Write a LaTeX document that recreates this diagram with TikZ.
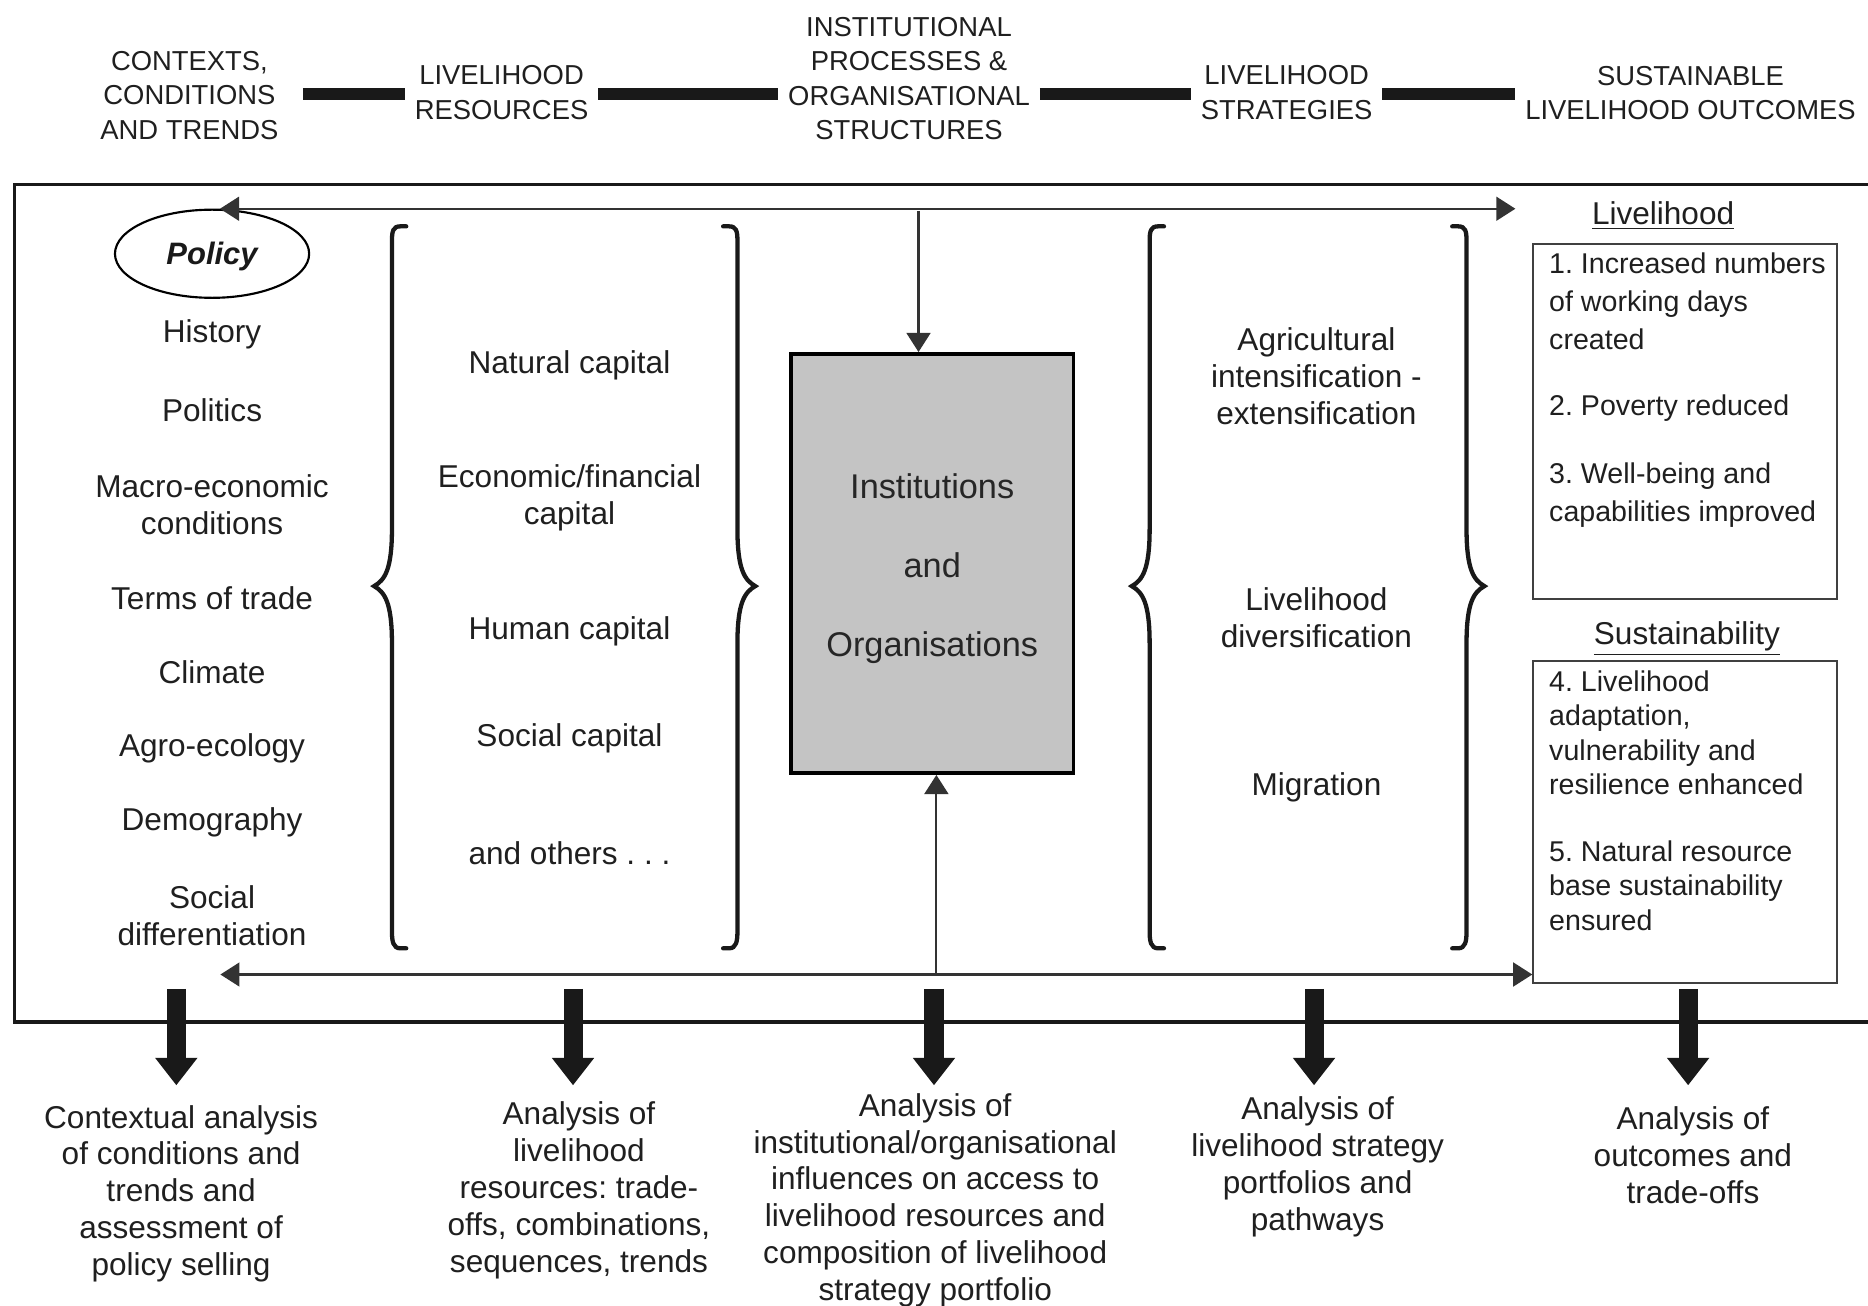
\documentclass[tikz,border=0pt]{standalone}
\usepackage{fontspec}
\setmainfont{Liberation Sans}
\usetikzlibrary{arrows.meta,shapes.geometric,calc}
\frenchspacing
\begin{document}
\frenchspacing
\begin{tikzpicture}[x=0.5pt,y=-0.5pt,
  txt/.style={align=center,inner sep=0pt,yshift=-1pt,text=black!88,font=\fontsize{13.25pt}{15.5pt}\selectfont},
  hdr/.style={align=center,inner ysep=0pt,inner xsep=4pt,text=black!88,font=\fontsize{11.5pt}{14.5pt}\selectfont},
  hbar/.style={line width=5pt,black!90},
  thinln/.style={line width=0.9pt,draw=black!80},
  tip/.tip={Triangle[length=8pt,width=10pt]},
  bigarrow/.style={line width=8pt,black!90,-{Triangle[length=11.5pt,width=17pt]}},
  bracepath/.style={line width=1.8pt,black!90,line cap=round},
  lbrace/.pic={\draw[bracepath] (12,-302) -- (7,-302) .. controls (1,-302) and (0,-298) .. (0,-290) -- (0,-48) .. controls (0,-14) and (-6,-5) .. (-15,0) .. controls (-6,5) and (0,14) .. (0,48) -- (0,290) .. controls (0,298) and (1,304) .. (7,304) -- (12,304);},
  boxtxt/.style={align=left,inner sep=0pt,anchor=west,text=black!88}
]
\useasboundingbox (0,0) rectangle (1568,1096);

% ---- headers ----
\node[hdr] (h1) at (159,80) {CONTEXTS,\\CONDITIONS\\AND TRENDS};
\node[hdr] (h2) at (421,77.5) {LIVELIHOOD\\RESOURCES};
\node[hdr] (h3) at (763,66) {INSTITUTIONAL\\PROCESSES \&\\ORGANISATIONAL\\STRUCTURES};
\node[hdr] (h4) at (1080,77.5) {LIVELIHOOD\\STRATEGIES};
\node[hdr] (h5) at (1419,78) {SUSTAINABLE\\LIVELIHOOD OUTCOMES};
\coordinate (bary) at (0,79);
\draw[hbar,shorten <=6pt] (h1.east |- bary) -- (h2.west |- bary);
\draw[hbar] (h2.east |- bary) -- (h3.west |- bary);
\draw[hbar] (h3.east |- bary) -- (h4.west |- bary);
\draw[hbar] (h4.east |- bary) -- (h5.west |- bary);

% ---- main frame ----
\draw[line width=1.5pt,black!90] (12,155) rectangle (1600,858);

% ---- left column ----
\node[ellipse,draw,line width=0.9pt,minimum width=81.5pt,minimum height=37pt,inner sep=0pt,text=black!90,
      font=\bfseries\itshape\fontsize{13pt}{15pt}\selectfont] (policy) at (178,213) {\raisebox{-4.6pt}[0pt][0pt]{Policy}};
\node[txt] (c1) at (178,279) {History};
\node[txt] (c2) at (178,342) {Politics};
\node[txt] (c3) at (178,421.5) {Macro-economic\\conditions};
\node[txt] (c4) at (178,500) {Terms of trade};
\node[txt] (c5) at (178,562) {Climate};
\node[txt] (c6) at (178,626) {Agro-ecology};
\node[txt] (c7) at (178,688) {Demography};
\node[txt] (c8) at (178,766.5) {Social\\differentiation};

% ---- resources ----
\pic at (329,492) {lbrace};
\pic[xscale=-1] at (619,492) {lbrace};
\node[txt] (r1) at (478,305) {Natural capital};
\node[txt] (r2) at (478,415.5) {Economic/financial\\capital};
\node[txt] (r3) at (478,528) {Human capital};
\node[txt] (r4) at (478,618) {Social capital};
\node[txt] (r5) at (478,714) {and others . . .};

% ---- institutions ----
\node[draw,line width=1.5pt,fill=black!23,minimum width=118.5pt,minimum height=176pt] (inst) at (782.5,473) {};
\node[align=center,inner sep=0pt,text=black!85,font=\fontsize{14.4pt}{33.25pt}\selectfont] (instt) at (782.5,477.5) {Institutions\\and\\Organisations};

% ---- strategies ----
\pic at (965,492) {lbrace};
\pic[xscale=-1] at (1231,492) {lbrace};
\node[txt] (s1) at (1105,313.5) {Agricultural\\intensification -\\extensification};
\node[txt] (s2) at (1105,516.5) {Livelihood\\diversification};
\node[txt] (s3) at (1105,659) {Migration};

% ---- outcomes ----
\node[txt] (livh) at (1396,179) {\underline{Livelihood}};
\node[draw=black!75,line width=0.8pt,minimum width=127.5pt,minimum height=149pt] (liv) at (1414.5,354) {};
\node[boxtxt,yshift=-1pt,font=\fontsize{12pt}{15.75pt}\selectfont] (livt) at (1300,325.5)
  {1. Increased numbers\\of working days\\created\\[12.25pt]2. Poverty reduced\\[12.75pt]3. Well-being and\\capabilities improved};
\node[txt] (sush) at (1416,534) {\underline{Sustainability}};
\node[draw=black!75,line width=0.8pt,minimum width=127.5pt,minimum height=135pt] (sus) at (1414.5,690) {};
\node[boxtxt,font=\fontsize{12pt}{14.5pt}\selectfont] (sust) at (1300,672)
  {4. Livelihood\\adaptation,\\vulnerability and\\resilience enhanced\\[13.5pt]5. Natural resource\\base sustainability\\ensured};

% ---- thin arrows ----
\coordinate (tr) at (1272,174);
\draw[thinln,tip-tip] (policy.80) -- (policy.80 -| tr);
\coordinate (tj) at (771,177);
\draw[thinln,-tip] (tj) -- (tj |- inst.north);
\coordinate (bl) at (185,818);
\draw[thinln,tip-tip] (bl) -- (bl -| sus.west);
\coordinate (bj) at (786,818);
\draw[thinln,-tip] (bj) -- (bj |- inst.south);

% ---- bottom analysis ----
\node[txt] (t1) at (152,1000) {Contextual analysis\\of conditions and\\trends and\\assessment of\\policy selling};
\node[txt] (t2) at (486,997) {Analysis of\\livelihood\\resources: trade-\\offs, combinations,\\sequences, trends};
\node[txt] (t3) at (785,1005.5) {Analysis of\\institutional/organisational\\influences on access to\\livelihood resources and\\composition of livelihood\\strategy portfolio};
\node[txt] (t4) at (1106,977.5) {Analysis of\\livelihood strategy\\portfolios and\\pathways};
\node[txt] (t5) at (1421,967.5) {Analysis of\\outcomes and\\trade-offs};

\foreach \i/\x in {1/148,2/481,3/784,4/1103,5/1417}{
  \coordinate (a\i) at (\x,830);
  \coordinate (b\i) at (\x,911);
  \draw[bigarrow] (a\i) -- (b\i);
}
\end{tikzpicture}
\end{document}
